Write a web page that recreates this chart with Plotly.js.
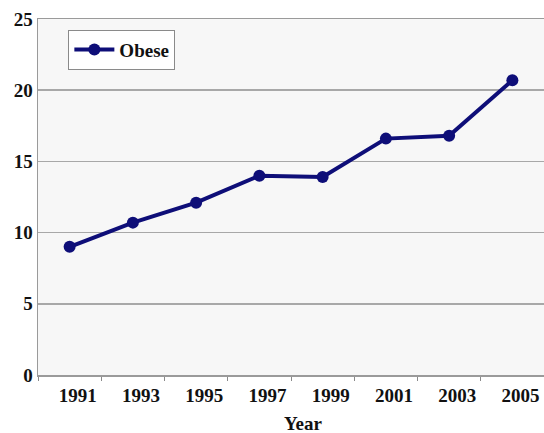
<!DOCTYPE html>
<html>
<head>
<meta charset="utf-8">
<script src="https://cdn.plot.ly/plotly-3.0.1.min.js"></script>
<style>
  html, body { margin: 0; padding: 0; background: #ffffff; }
  #chart { width: 544px; height: 433px; }
</style>
</head>
<body>
<div id="chart"></div>
<script>
// Survey years and share of adults classed as obese (%)
const years = ['1991', '1993', '1995', '1997', '1999', '2001', '2003', '2005'];
const obese = [9.0, 10.7, 12.1, 14.0, 13.9, 16.6, 16.8, 20.7];
const yTicks = [0, 5, 10, 15, 20, 25];

const serif = 'Liberation Serif, Times New Roman, serif';
const navy = '#0e0e78';
const labelFont = { family: serif, size: 19, weight: 'bold', color: '#111' };

const trace = {
  type: 'scatter',
  mode: 'lines+markers',
  name: 'Obese',
  x: years,
  y: obese,
  line: { color: navy, width: 4 },
  marker: { color: navy, size: 12 }
};

const layout = {
  width: 544,
  height: 433,
  margin: { l: 38, r: 0, t: 19, b: 58 },
  paper_bgcolor: '#ffffff',
  plot_bgcolor: '#f7f7f7',
  showlegend: true,
  legend: {
    x: 0.06, y: 0.97, xanchor: 'left', yanchor: 'top',
    bgcolor: '#ffffff', bordercolor: '#8a8a8a', borderwidth: 1,
    font: labelFont,
    itemwidth: 40
  },
  xaxis: {
    type: 'category',
    range: [-0.5, 7.5],
    showgrid: false,
    showline: true, mirror: true, linecolor: '#9a9a9a', linewidth: 1.5,
    ticks: 'outside', tickson: 'boundaries', ticklen: 4, tickcolor: '#8a8a8a',
    ticklabelshift: 8,
    ticklabelstandoff: 3,
    tickfont: labelFont,
    fixedrange: true
  },
  yaxis: {
    range: [0, 25],
    tickvals: yTicks,
    showgrid: true, gridcolor: '#a8a8a8', gridwidth: 1.5,
    zeroline: false,
    showline: true, mirror: true, linecolor: '#9a9a9a', linewidth: 1.5,
    ticks: '',
    tickfont: labelFont,
    fixedrange: true
  },
  annotations: [{
    text: 'Year',
    xref: 'paper', yref: 'paper',
    x: 0.525, y: -0.102, xanchor: 'center', yanchor: 'top',
    showarrow: false,
    font: labelFont
  }]
};

Plotly.newPlot('chart', [trace], layout, { displayModeBar: false, staticPlot: true });
</script>
</body>
</html>
